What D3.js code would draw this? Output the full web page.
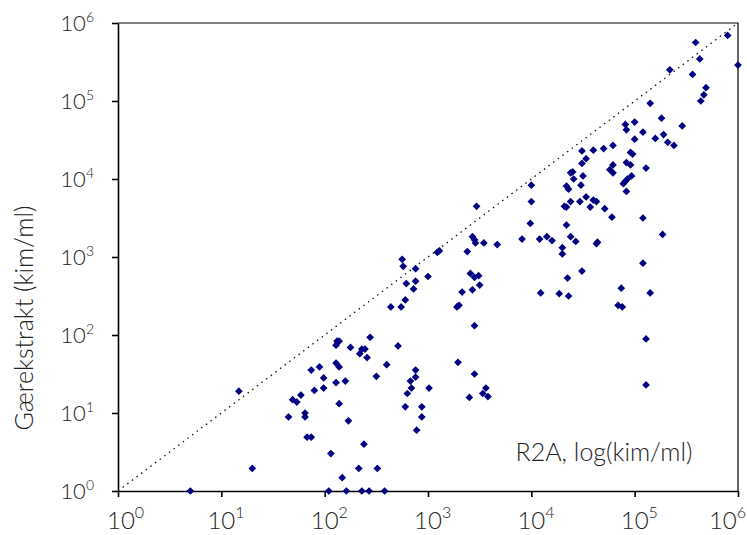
<!DOCTYPE html>
<html>
<head>
<meta charset="utf-8">
<script src="https://cdn.jsdelivr.net/npm/d3@7"></script>
<style>
  body { margin: 0; background: #fff; }
  svg { display: block; font-family: Lato, "Open Sans", sans-serif; font-weight: 300; }
  .tick text { display: none; }
</style>
</head>
<body>
<svg id="content" width="747" height="535"></svg>
<script>
// log10 of counts (kim/ml)
const r2aLog = [
  0.70, 2.04, 2.21, 2.36, 2.43, 2.58,
  1.17, 1.30, 1.65, 1.69, 1.73, 1.77, 1.81, 1.81, 1.83, 1.87, 1.87, 1.90, 1.95, 1.99, 1.99, 2.06, 2.11, 2.14, 2.11, 2.20, 2.14, 2.23, 2.17, 2.33, 2.51, 2.38,
  2.12, 2.14, 2.11, 2.44, 2.25, 2.36, 2.39, 2.34, 2.41, 2.71, 2.50, 2.60, 2.78, 2.94, 2.94, 2.89, 2.88, 2.88, 2.83, 2.84, 2.80, 3.01, 3.29, 3.45, 3.56, 3.53, 3.58, 3.40,
  2.75, 2.76, 2.88, 3.00, 2.88, 2.79, 2.86, 2.78, 2.64, 2.74, 3.09, 3.11, 3.38, 3.43, 3.45, 3.46, 3.54, 3.67, 3.47, 3.41, 3.45, 3.49, 3.50, 3.43, 3.33, 3.30, 3.28, 3.45,
  4.00, 4.00, 3.99, 3.91, 4.08, 4.15, 4.20, 4.30, 4.30, 4.38, 4.43, 4.64, 4.63, 4.34, 4.32, 4.34, 4.38, 4.47, 4.53, 4.60,
  4.63, 4.57, 4.71, 4.48, 4.34, 4.36, 4.38, 4.40, 4.50, 4.41, 4.49, 4.60, 4.70, 4.79, 4.53, 4.49, 4.78, 5.08, 5.27, 5.08,
  4.49, 4.35, 4.09, 4.27, 4.36, 4.87, 5.15, 4.84, 4.88, 5.11, 5.11,
  4.96, 4.98, 4.92, 4.96, 4.79, 4.76, 4.79, 5.11, 4.97, 4.93, 4.91, 4.89, 4.92, 4.91, 5.00, 4.92, 5.08, 5.00, 5.20, 5.28,
  5.32, 5.38, 5.46, 5.26, 5.15, 5.69, 5.67, 5.64, 5.56, 5.34, 5.63, 5.59, 5.90, 6.00
];
const yeastLog = [
  0, 0, 0, 0, 0, 0,
  1.28, 0.29, 0.95, 1.17, 1.14, 1.23, 1.00, 0.95, 0.69, 0.69, 1.55, 1.29, 1.59, 1.45, 1.32, 0.48, 1.64, 1.59, 1.39, 1.41, 1.12, 0.90, 0.17, 0.29, 0.29, 0.60,
  1.92, 1.92, 1.87, 1.97, 1.84, 1.82, 1.82, 1.76, 1.71, 1.86, 1.47, 1.62, 1.08, 1.08, 0.95, 0.78, 1.55, 1.46, 1.41, 1.32, 1.25, 1.32, 1.65, 1.50, 1.32, 1.25, 1.21, 1.20,
  2.97, 2.88, 2.85, 2.75, 2.69, 2.66, 2.59, 2.45, 2.36, 2.36, 3.06, 3.08, 3.07, 3.26, 3.22, 3.18, 3.18, 3.16, 3.65, 2.79, 2.74, 2.76, 2.64, 2.58, 2.55, 2.38, 2.36, 2.12,
  3.92, 3.71, 3.43, 3.23, 3.23, 3.26, 3.21, 3.12, 3.04, 3.26, 3.20, 3.19, 3.17, 3.41, 3.65, 3.64, 3.71, 3.71, 3.77, 3.73,
  3.71, 3.64, 3.62, 3.92, 3.91, 3.87, 4.08, 4.09, 4.04, 4.00, 4.36, 4.37, 4.39, 4.43, 4.26, 4.20, 3.51, 3.50, 3.29, 2.92,
  2.82, 2.73, 2.54, 2.53, 2.50, 2.60, 2.54, 2.38, 2.36, 1.95, 1.36,
  4.34, 4.32, 4.21, 4.18, 4.18, 4.12, 4.08, 4.14, 4.04, 4.00, 3.97, 3.94, 3.84, 4.70, 4.73, 4.63, 4.60, 4.51, 4.52, 4.57,
  4.47, 4.43, 4.68, 4.78, 4.97, 5.17, 5.08, 5.00, 5.34, 5.40, 5.54, 5.75, 5.84, 5.46
];
const decades = [0, 1, 2, 3, 4, 5, 6];

const points = r2aLog.map((v, i) => ({ r2a: Math.pow(10, v), yeast: Math.pow(10, yeastLog[i]) }));
const tickVals = decades.map(d => Math.pow(10, d));

const svg = d3.select("#content");
const mLeft = 118, mRight = 738, mTop = 23, mBottom = 491;

let x = d3.scaleLog().domain([1, 1e6]).range([mLeft, mRight]);
let y = d3.scaleLog().domain([1, 1e6]).range([mBottom, mTop]);

// frame top / right
svg.append("path")
  .attr("d", `M${mLeft},${mTop}H${mRight}V${mBottom}`)
  .attr("fill", "none")
  .attr("stroke", "#000")
  .attr("stroke-width", 1.2);

svg.append("g")
  .attr("transform", "translate(0," + mBottom + ")")
  .call(d3.axisBottom(x).tickValues(tickVals).tickSizeInner(6).tickSizeOuter(0));
svg.append("g")
  .attr("transform", "translate(" + mLeft + ",0)")
  .call(d3.axisLeft(y).tickValues(tickVals).tickSizeInner(6).tickSizeOuter(0));
svg.selectAll(".domain, .tick line").attr("stroke", "#000").attr("stroke-width", 1.6);

// x tick labels: "10" centred on the tick, kept inside the picture
let xl = svg.append("g").selectAll("text")
  .data(decades)
  .join("text")
  .attr("y", 529)
  .attr("font-size", 24)
  .attr("fill", "#222");
xl.append("tspan").attr("class", "base").text("10");
xl.append("tspan").attr("dy", -11).attr("font-size", 16).text(d => d);
xl.each(function (d) {
  let t = d3.select(this);
  let wBase = t.select(".base").node().getComputedTextLength();
  let w = this.getComputedTextLength();
  let x0 = x(Math.pow(10, d)) - wBase / 2;
  x0 = Math.max(107, Math.min(x0, 746 - w));
  t.attr("x", x0);
});

svg.append("g").selectAll("text")
  .data(decades)
  .join("text")
  .attr("x", 94)
  .attr("y", d => y(Math.pow(10, d)) + 8)
  .attr("text-anchor", "end")
  .attr("font-size", 22)
  .attr("fill", "#222")
  .call(t => {
    t.append("tspan").text("10");
    t.append("tspan").attr("dy", -9).attr("font-size", 14).text(d => d);
  });

// 1:1 line
svg.append("line")
  .attr("x1", x(1)).attr("y1", y(1))
  .attr("x2", x(1e6)).attr("y2", y(1e6))
  .attr("stroke", "#111")
  .attr("stroke-width", 1.3)
  .attr("stroke-dasharray", "1.5,4.3");

var sym = d3.symbol().type(d3.symbolSquare).size(30);
svg.append("g").selectAll("path")
  .data(points)
  .join("path")
  .attr("d", sym)
  .attr("transform", d => "translate(" + x(d.r2a) + "," + y(d.yeast) + ") rotate(45)")
  .attr("fill", "#000080");

svg.append("text")
  .attr("transform", "translate(33,318) rotate(-90)")
  .attr("text-anchor", "middle")
  .attr("font-size", 25)
  .attr("fill", "#222")
  .text("Gærekstrakt (kim/ml)");

svg.append("text")
  .attr("x", 604)
  .attr("y", 461)
  .attr("text-anchor", "middle")
  .attr("font-size", 25)
  .attr("fill", "#222")
  .text("R2A, log(kim/ml)");
</script>
</body>
</html>
